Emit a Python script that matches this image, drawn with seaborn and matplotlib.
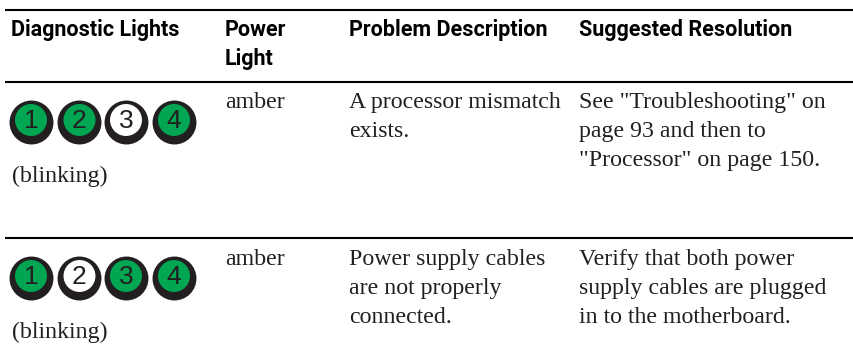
import matplotlib
matplotlib.use("Agg")
import matplotlib.pyplot as plt
import pandas as pd
import seaborn as sns

##-----table content-----##
headers = ["Diagnostic Lights", "Power\nLight", "Problem Description", "Suggested Resolution"]
power = ["amber", "amber"]
blinking = ["(blinking)", "(blinking)"]
problems = ["A processor mismatch\nexists.",
            "Power supply cables\nare not properly\nconnected."]
resolutions = ['See "Troubleshooting" on\npage 93 and then to\n"Processor" on page 150.',
               "Verify that both power\nsupply cables are plugged\nin to the motherboard."]
light_numbers = [1, 2, 3, 4]
row1_lights = ["on", "on", "off", "on"]
row2_lights = ["on", "off", "on", "on"]

##-----layout, in pixels-----##
W, H = 854, 352
col_x = [11, 225, 349, 579]
rule_y = [10, 81.5, 238]
row_y = [108, 265]
light_x = [31, 79.5, 126, 174]
light_y = [122, 278]
ink = "#231f20"
green = "#00a651"
serif = "Liberation Serif"
narrow = ["Liberation Sans Narrow", "Roboto"]

sns.set_theme(style="white")
fig = plt.figure(figsize=(W / 100, H / 100), dpi=100)
ax = fig.add_axes([0, 0, 1, 1])

rows = []
for y, states in zip(light_y, [row1_lights, row2_lights]):
    for x, n, state in zip(light_x, light_numbers, states):
        rows.append({"x": x, "y": y, "n": n, "state": state})
lights = pd.DataFrame(rows)

sns.scatterplot(data=lights, x="x", y="y", s=1000, color=ink, linewidth=0, ax=ax, legend=False)
inner = lights.assign(y=lights["y"] - 2)
sns.scatterplot(data=inner, x="x", y="y", hue="state", palette={"on": green, "off": "white"},
                s=530, linewidth=0, ax=ax, legend=False)

ax.set_xlim(0, W)
ax.set_ylim(H, 0)
ax.axis("off")

for y in rule_y:
    ax.plot([5, W], [y, y], color="black", lw=1.5, solid_capstyle="butt")

for _, r in inner.iterrows():
    ax.text(r["x"], r["y"] + 0.5, str(r["n"]), ha="center", va="center", fontsize=19,
            family="Liberation Sans", color=ink)

for x, label in zip(col_x, headers):
    # header lines sit 29px apart, first baseline at 36
    for i, line in enumerate(label.split("\n")):
        ax.text(x, 36 + i * 29, line, family=narrow, fontweight="bold", fontsize=15.5,
                color="black", va="baseline")


def body(x, y, s):
    # each line is placed by hand so the 29px leading stays exact
    for i, line in enumerate(s.split("\n")):
        ax.text(x, y + i * 29, line, family=serif, fontsize=17.2, color=ink, va="baseline")


for i in range(2):
    body(col_x[1], row_y[i], power[i])
    body(col_x[2], row_y[i], problems[i])
    body(col_x[3], row_y[i], resolutions[i])
    body(12, light_y[i] + 60, blinking[i])

fig.savefig("out.png", dpi=100)
